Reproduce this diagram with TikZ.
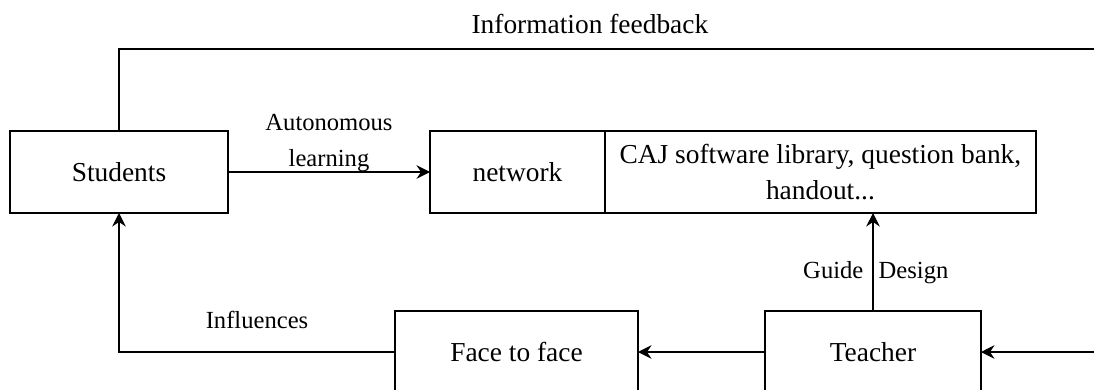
\documentclass[tikz,border=0pt]{standalone}
\usepackage{fontspec}
\setmainfont{Liberation Serif}
\usetikzlibrary{arrows.meta, positioning}
\tikzset{
  blockbox/.style={draw, line width=0.75pt, align=center, inner sep=0pt, outer sep=0pt,
    minimum height=1.64cm, font=\fontsize{15.6}{20}\selectfont},
  lbl/.style={inner sep=0pt, align=center, font=\fontsize{14}{20}\selectfont},
  flow/.style={-{Stealth[length=2.7mm, width=2.7mm, inset=0.9mm]}, line width=0.75pt},
  link/.style={line width=0.75pt},
}

\begin{document}
\begin{tikzpicture}[x=0.02cm, y=-0.02cm]
    \useasboundingbox (0,0) rectangle (1094,389);
    \clip (0,0) rectangle (1094,389);
    \node[blockbox, minimum width=4.36cm] (students) at (119,172) {Students};
    \node[blockbox, minimum width=3.5cm] (network) at (517.5,172) {network};
    \node[blockbox, minimum width=8.62cm, right=0pt of network] (library) {CAJ software library, question bank,\\handout...};
    \node[blockbox, minimum width=4.86cm] (face) at (516.5,352) {Face to face};
    \node[blockbox, minimum width=4.32cm] (teacher) at (873,352) {Teacher};
    \coordinate (fbend) at (1100,49);
    \coordinate (tin) at (1100,352);
    \draw[flow] (students) -- node[lbl, above] {Autonomous\\learning} (network);
    \draw[link] (students.north) |- node[lbl, pos=0.74, above=0.3cm, font=\fontsize{15.6}{20}\selectfont] {Information feedback} (fbend);
    \draw[flow] (teacher.north) -- node[lbl, pos=0.33, anchor=base east, xshift=-0.18cm] {Guide} node[lbl, pos=0.33, anchor=base west, xshift=0.1cm] {Design} (teacher.north |- library.south);
    \draw[flow] (teacher) -- (face);
    \draw[flow] (tin) -- (teacher);
    \draw[flow] (face.west) -| node[lbl, pos=0.25, above=0.46cm] {Influences} (students.south);
  \end{tikzpicture}
\end{document}
